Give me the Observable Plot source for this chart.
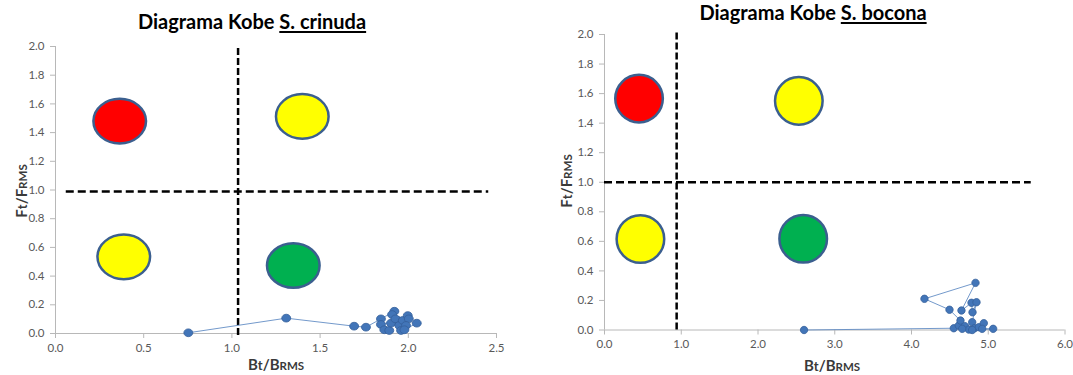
<!DOCTYPE html>
<html>
<head>
<meta charset="utf-8">
<script src="https://cdn.jsdelivr.net/npm/d3@7"></script>
<script src="https://cdn.jsdelivr.net/npm/@observablehq/plot@0.6"></script>
<style>
  body { margin: 0; background: #fff; width: 1073px; height: 375px; overflow: hidden; position: relative; font-family: Lato, "Open Sans", sans-serif; }
  .title { position: absolute; font-weight: 700; font-size: 20px; line-height: 17px; color: #000; white-space: nowrap; transform: translateX(-50%); }
  .title u { text-decoration-thickness: 1.5px; text-underline-offset: 2px; }
  .panel { position: absolute; }
  .panel svg { overflow: visible; }
</style>
</head>
<body>
<script>
// Kobe quadrant centres (stock status symbols) and their fills
const zoneColors = ["#ff0000", "#ffff00", "#ffff00", "#00b050"];
const crinudaZoneB = [0.364, 1.399, 0.387, 1.348];
const crinudaZoneF = [1.48, 1.513, 0.534, 0.474];
const boconaZoneB = [0.45, 2.532, 0.468, 2.589];
const boconaZoneF = [1.566, 1.551, 0.616, 0.618];

// Reference points (B/BRMS, F/FRMS) and their dashed limits
const crinudaRefB = 1.035, crinudaRefF = 0.99;
const boconaRefB = 0.94, boconaRefF = 1.0;

// Yearly trajectory S. crinuda
const crinudaB = [0.753, 1.308, 1.693, 1.760, 1.845, 1.921, 1.908, 1.940, 1.845, 1.864, 1.892, 1.902, 1.927, 1.949, 1.959, 1.969, 1.997, 2.003, 1.987, 1.978, 2.048];
const crinudaF = [0.005, 0.107, 0.051, 0.044, 0.102, 0.155, 0.132, 0.091, 0.063, 0.026, 0.021, 0.072, 0.102, 0.056, 0.021, 0.091, 0.125, 0.102, 0.056, 0.026, 0.072];

// Yearly trajectory S. bocona
const boconaB = [2.60, 4.551, 4.616, 4.638, 4.495, 4.169, 4.834, 4.651, 4.782, 4.795, 4.847, 4.791, 4.695, 4.747, 4.661, 4.821, 4.877, 4.942, 4.921, 5.064, 4.791];
const boconaF = [0.000, 0.012, 0.030, 0.064, 0.137, 0.211, 0.319, 0.132, 0.184, 0.120, 0.188, 0.053, 0.026, 0.003, 0.008, 0.012, 0.019, 0.046, 0.008, 0.008, 0.000];

// Axis ticks and titles
const fTicks = [0, 0.2, 0.4, 0.6, 0.8, 1.0, 1.2, 1.4, 1.6, 1.8, 2.0];
const crinudaBTicks = [0, 0.5, 1.0, 1.5, 2.0, 2.5];
const boconaBTicks = [0, 1, 2, 3, 4, 5, 6];
const xTitleParts = [["B", ""], ["t", "sub"], ["/B", ""], ["RMS", "small"]];
const yTitleParts = [["F", ""], ["t", "sub"], ["/F", ""], ["RMS", "small"]];

// ellipse-shaped symbol (stretch = horizontal / vertical radius)
function ellipseSymbol(stretch) {
  return {
    draw(ctx, size) {
      const ry = Math.sqrt(size / Math.PI), rx = ry * stretch, c = 0.5523;
      ctx.moveTo(rx, 0);
      ctx.bezierCurveTo(rx, ry * c, rx * c, ry, 0, ry);
      ctx.bezierCurveTo(-rx * c, ry, -rx, ry * c, -rx, 0);
      ctx.bezierCurveTo(-rx, -ry * c, -rx * c, -ry, 0, -ry);
      ctx.bezierCurveTo(rx * c, -ry, rx, -ry * c, rx, 0);
      ctx.closePath();
    }
  };
}

// axis title with small "t" and small-caps "RMS"
function axisTitle(parts, x, y, rotate) {
  return () => {
    const t = d3.create("svg:text")
      .attr("transform", `translate(${x},${y})` + (rotate ? " rotate(-90)" : ""))
      .attr("text-anchor", "middle")
      .attr("font-weight", "bold")
      .attr("font-size", 15)
      .attr("fill", "#3a3a3a");
    for (const [s, kind] of parts) {
      const sp = t.append("tspan").text(s);
      if (kind === "sub") sp.attr("font-size", 13);
      if (kind === "small") sp.attr("font-size", 11.5);
    }
    return t.node();
  };
}

function kobe(cfg) {
  const zones = cfg.zoneB.map((b, i) => ({b, f: cfg.zoneF[i], color: zoneColors[i]}));
  const traj = cfg.trajB.map((b, i) => ({b, f: cfg.trajF[i]}));
  return Plot.plot({
    width: cfg.width,
    height: cfg.height,
    marginLeft: cfg.ml, marginRight: cfg.mr, marginTop: cfg.mt, marginBottom: cfg.mb,
    style: {fontFamily: "Lato, 'Open Sans', sans-serif", fontSize: "11.5px", color: "#595959", background: "transparent"},
    x: {domain: cfg.xDomain, label: null},
    y: {domain: [0, 2], label: null},
    marks: [
      Plot.ruleX([0], {stroke: "#b8b8b8", strokeWidth: 1}),
      Plot.ruleY([0], {stroke: "#b8b8b8", strokeWidth: 1}),
      Plot.axisX(cfg.xTicks, {tickSize: 5, tickPadding: 5, stroke: "#b8b8b8", fill: "#595959", tickFormat: d3.format(".1f")}),
      Plot.axisY(fTicks, {tickSize: 5, tickPadding: 6, stroke: "#b8b8b8", fill: "#595959", tickFormat: d3.format(".1f")}),
      Plot.ruleX([cfg.refB], {y1: cfg.vy1, y2: cfg.vy2, stroke: "#000", strokeWidth: 2.5, strokeDasharray: "7,3"}),
      Plot.ruleY([cfg.refF], {x1: cfg.hx1, x2: cfg.hx2, stroke: "#000", strokeWidth: 2.5, strokeDasharray: "8,4"}),
      Plot.dot(zones, {x: "b", y: "f", fill: "color", r: cfg.zoneR, symbol: ellipseSymbol(cfg.zoneStretch), stroke: "#3b5f8f", strokeWidth: 2.5}),
      Plot.line(traj, {x: "b", y: "f", stroke: "#5a87c2", strokeWidth: 1, strokeOpacity: 0.85}),
      Plot.dot(traj, {x: "b", y: "f", r: cfg.dotR, symbol: ellipseSymbol(cfg.dotStretch), fill: "#4275b8", stroke: "#35609a", strokeWidth: 0.8}),
      axisTitle(xTitleParts, cfg.xtx, cfg.xty, false),
      axisTitle(yTitleParts, cfg.ytx, cfg.yty, true)
    ]
  });
}

function place(node, left, top) {
  const d = document.createElement("div");
  d.className = "panel";
  d.style.left = left + "px";
  d.style.top = top + "px";
  d.appendChild(node);
  document.body.appendChild(d);
}

function title(html, cx, top) {
  const t = document.createElement("div");
  t.className = "title";
  t.style.left = cx + "px";
  t.style.top = top + "px";
  t.innerHTML = html;
  document.body.appendChild(t);
}

title("Diagrama Kobe <u>S. crinuda</u>", 252, 13);
place(kobe({
  width: 520, height: 339, ml: 55, mr: 24, mt: 10, mb: 42,
  xDomain: [0, 2.5], xTicks: crinudaBTicks,
  zoneB: crinudaZoneB, zoneF: crinudaZoneF, zoneR: 22.3, zoneStretch: 1.18,
  trajB: crinudaB, trajF: crinudaF, dotR: 3.9, dotStretch: 1.15,
  refB: crinudaRefB, vy1: -0.014, vy2: 2.0,
  refF: crinudaRefF, hx1: 0.061, hx2: 2.456,
  xtx: 276, xty: 334, ytx: 27, yty: 155
}), 0, 36);

title("Diagrama Kobe <u>S. bocona</u>", 813, 4);
place(kobe({
  width: 533, height: 353, ml: 64, mr: 8.5, mt: 12, mb: 45.5,
  xDomain: [0, 6], xTicks: boconaBTicks,
  zoneB: boconaZoneB, zoneF: boconaZoneF, zoneR: 23.8, zoneStretch: 1.0,
  trajB: boconaB, trajF: boconaF, dotR: 3.7, dotStretch: 1.0,
  refB: boconaRefB, vy1: 0, vy2: 2.01,
  refF: boconaRefF, hx1: 0, hx2: 5.56,
  xtx: 292, xty: 349, ytx: 32, yty: 159
}), 540, 22);
</script>
</body>
</html>
